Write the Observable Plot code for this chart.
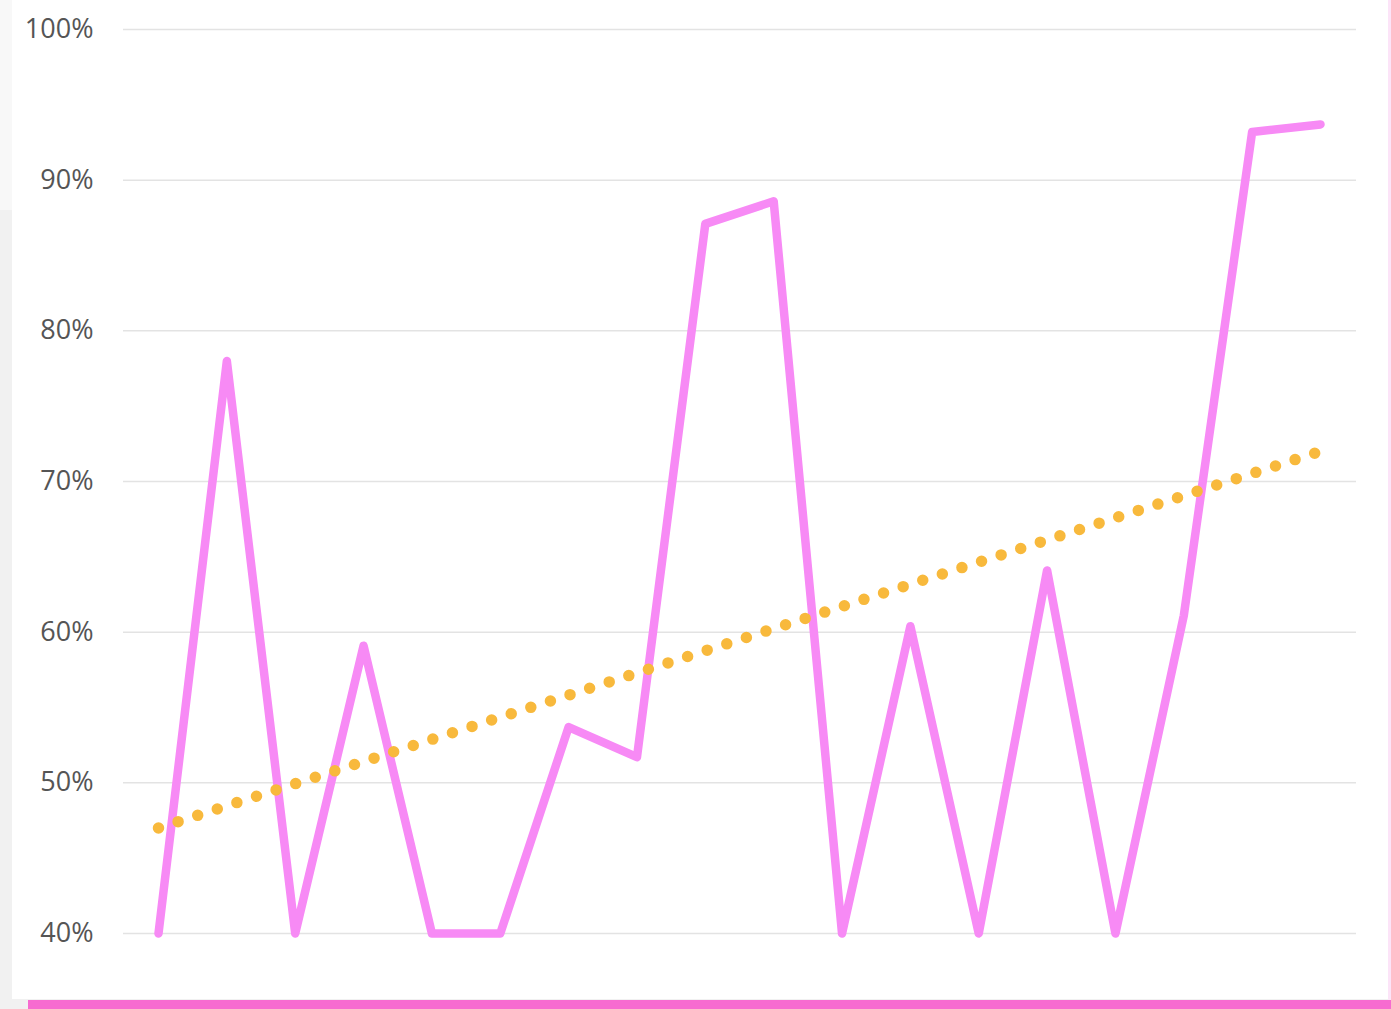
<!DOCTYPE html>
<html>
<head>
<meta charset="utf-8">
<script src="https://cdn.jsdelivr.net/npm/d3@7"></script>
<script src="https://cdn.jsdelivr.net/npm/@observablehq/plot@0.6"></script>
<style>
  html, body { margin: 0; padding: 0; }
  body { width: 1391px; height: 1009px; position: relative; overflow: hidden; background: #f1f1f1; font-family: "Open Sans", sans-serif; }
  #topstrip { position: absolute; left: 0; top: 0; width: 12px; height: 210px; background: #f8f8f8; }
  #card { position: absolute; left: 12px; top: 0; width: 1379px; height: 999px; background: #ffffff; }
  #edge { position: absolute; left: 1388px; top: 0; width: 3px; height: 1000px; background: #fce4f8; }
  #bar { position: absolute; left: 28px; top: 1000px; width: 1363px; height: 9px; background: #f76bd0; }
  #chart { position: absolute; left: 0; top: 0; }
</style>
</head>
<body>
<div id="topstrip"></div>
<div id="card"></div>
<div id="edge"></div>
<div id="bar"></div>
<div id="chart"></div>
<script>
// Data (percent)
const periods = d3.range(18);
const values = [40, 78.0, 40, 59.1, 40, 40, 53.7, 51.7, 87.1, 88.6, 40, 60.4, 40, 64.1, 40, 61.1, 93.2, 93.7];
const trendPeriods = [0, 17];
const trendValues = [47.0, 72.0];
const yTicks = [40, 50, 60, 70, 80, 90, 100];

const series = periods.map((p, i) => ({p, v: values[i]}));
const trend = trendPeriods.map((p, i) => ({p, v: trendValues[i]}));

const chart = Plot.plot({
  width: 1391,
  height: 1009,
  marginLeft: 123,
  marginRight: 35,
  marginTop: 29,
  marginBottom: 76,
  insetLeft: 35,
  insetRight: 36,
  style: {background: "transparent", fontFamily: "'Open Sans', sans-serif", fontSize: "27px", color: "#555555"},
  x: {domain: [0, 17], axis: null},
  y: {domain: [40, 100], ticks: yTicks, tickFormat: d => d + "%", tickSize: 0, tickPadding: 30, label: null},
  marks: [
    Plot.gridY(yTicks, {stroke: "#e3e3e3", strokeOpacity: 1, strokeWidth: 1.5}),
    Plot.axisY(yTicks, {tickSize: 0, tickPadding: 30, tickFormat: d => d + "%", label: null, fill: "#555555", fontSize: 27}),
    Plot.line(series, {x: "p", y: "v", stroke: "#f78af5", strokeWidth: 8.5, strokeLinecap: "round", strokeLinejoin: "round"}),
    Plot.line(trend, {x: "p", y: "v", stroke: "#f8b93c", strokeWidth: 11.5, strokeDasharray: "0 20.6", strokeLinecap: "round"})
  ]
});
document.getElementById("chart").appendChild(chart);
</script>
</body>
</html>
